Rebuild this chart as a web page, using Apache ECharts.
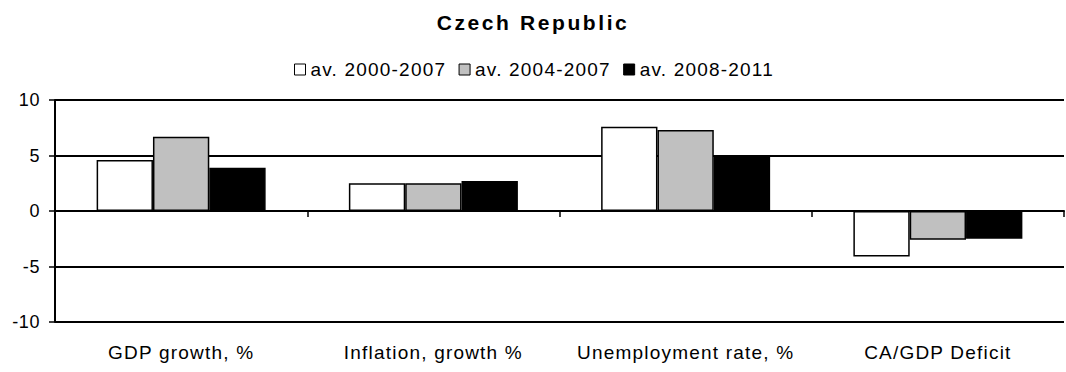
<!DOCTYPE html>
<html>
<head>
<meta charset="utf-8">
<script src="https://cdn.jsdelivr.net/npm/echarts@6/dist/echarts.min.js"></script>
<style>
html,body{margin:0;padding:0;background:#fff;}
#chart{width:1066px;height:372px;}
/* slightly loose letter spacing for the chart's text */
#chart svg text{letter-spacing:1px;}
#chart svg text[style*="21px"]{letter-spacing:2.6px;}
#chart svg text[style*="19px"]{letter-spacing:1.2px;}
#chart svg text[style*="18px"]{letter-spacing:0.6px;}
</style>
</head>
<body>
<div id="chart"></div>
<script>
// Indicators for the Czech Republic, period averages
const categories = ['GDP growth, %', 'Inflation, growth %', 'Unemployment rate, %', 'CA/GDP Deficit'];
const seriesNames = ['av. 2000-2007', 'av. 2004-2007', 'av. 2008-2011'];
const avg2000_2007 = [4.6, 2.5, 7.6, -4.1];
const avg2004_2007 = [6.7, 2.5, 7.3, -2.6];
const avg2008_2011 = [3.9, 2.7, 4.9, -2.5];
const yTicks = [-10, -5, 0, 5, 10];

const fills = ['#ffffff', '#c0c0c0', '#000000'];
const font = 'Liberation Sans, Arial, sans-serif';

const chart = echarts.init(document.getElementById('chart'), null, {renderer: 'svg'});

function barSeries(name, data, color) {
  return {
    name: name,
    type: 'bar',
    data: data,
    xAxisIndex: 0,
    barGap: '0%',
    barCategoryGap: '33%',
    itemStyle: {color: color, borderColor: '#000', borderWidth: 1.5},
    emphasis: {disabled: true}
  };
}

chart.setOption({
  animation: false,
  backgroundColor: '#fff',
  title: {
    text: 'Czech Republic',
    left: 'center',
    top: 7,
    textStyle: {fontFamily: font, fontSize: 21, fontWeight: 'bold', color: '#000'}
  },
  legend: {
    top: 55,
    left: 289,
    itemWidth: 11,
    itemHeight: 11,
    itemGap: 28,
    data: seriesNames.map((n, i) => ({name: n, itemStyle: {color: fills[i], borderColor: '#000', borderWidth: 1}})),
    textStyle: {fontFamily: font, fontSize: 19, color: '#000'},
    icon: 'rect'
  },
  grid: {left: 55, right: 2, top: 100, bottom: 50, containLabel: false},
  xAxis: [
    {
      type: 'category',
      data: categories,
      boundaryGap: true,
      axisLine: {show: true, onZero: true, lineStyle: {color: '#000', width: 2}},
      axisTick: {show: true, inside: false, length: 6, lineStyle: {color: '#000', width: 1.5}},
      axisLabel: {show: false}
    },
    {
      type: 'category',
      data: categories,
      position: 'bottom',
      boundaryGap: true,
      axisLine: {show: false, onZero: false},
      axisTick: {show: false},
      axisLabel: {show: true, margin: 21, fontFamily: font, fontSize: 19, color: '#000'}
    }
  ],
  yAxis: {
    type: 'value',
    min: yTicks[0],
    max: yTicks[yTicks.length - 1],
    interval: 5,
    axisLine: {show: true, lineStyle: {color: '#000', width: 2}},
    axisTick: {show: true, length: 6, lineStyle: {color: '#000', width: 1.5}},
    axisLabel: {margin: 15, fontFamily: font, fontSize: 18, color: '#000'},
    splitLine: {show: true, lineStyle: {color: '#000', width: 2}}
  },
  series: [
    barSeries(seriesNames[0], avg2000_2007, fills[0]),
    barSeries(seriesNames[1], avg2004_2007, fills[1]),
    barSeries(seriesNames[2], avg2008_2011, fills[2])
  ]
});
</script>
</body>
</html>
